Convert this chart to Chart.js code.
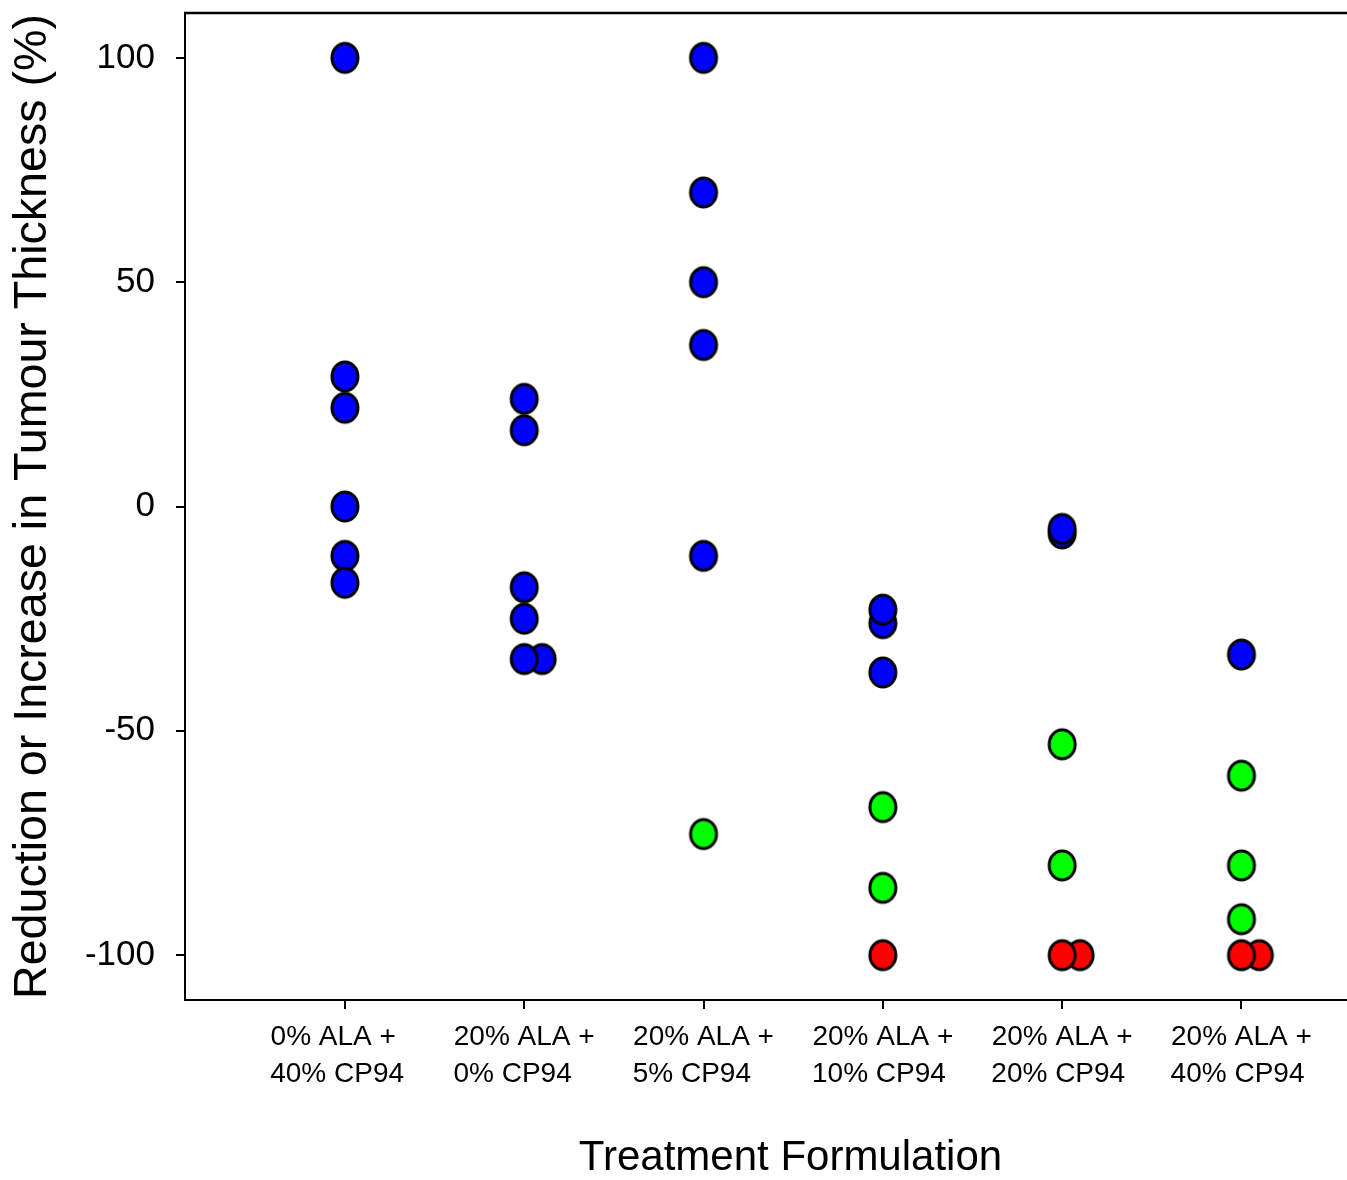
<!DOCTYPE html>
<html>
<head>
<meta charset="utf-8">
<script src="https://cdn.jsdelivr.net/npm/chart.js@4/dist/chart.umd.min.js"></script>
<style>
html, body { margin: 0; padding: 0; background: #fff; overflow: hidden; }
#wrap { width: 1347px; height: 1180px; overflow: hidden; position: relative; }
canvas { display: block; }
</style>
</head>
<body>
<div id="wrap"><canvas id="c" width="1401" height="1180"></canvas></div>
<script>
// ---- data ----
const categories = [
  ["0% ALA +   ", "40% CP94  "],
  ["20% ALA +", "0% CP94   "],
  ["20% ALA +", "5% CP94   "],
  ["20% ALA +", "10% CP94 "],
  ["20% ALA +", "20% CP94 "],
  ["20% ALA +", "40% CP94 "]
];
const yTicks = [-100, -50, 0, 50, 100];

// category position (with small side offset for overlapping points) and value
const blueX = [0, 0, 0, 0, 0, 0,   1, 1, 1, 1, 1.1, 1,   2, 2, 2, 2, 2,   3, 3, 3,   4, 4,   5];
const blueY = [100, 29, 22, 0, -11, -17,   24, 17, -18, -25, -34, -34,   100, 70, 50, 36, -11,   -37, -26, -23,   -6, -5,   -33];

const greenX = [2,   3, 3,   4, 4,   5, 5, 5];
const greenY = [-73,   -67, -85,   -53, -80,   -60, -80, -92];

const redX = [3,   4.1, 4,   5.1, 5];
const redY = [-100,   -100, -100,   -100, -100];

// ---- helpers ----
function toPoints(xs, ys) { return xs.map((x, i) => ({ x: x, y: ys[i] })); }
function marker(fill) {
  const cv = document.createElement('canvas');
  cv.width = 32; cv.height = 35;
  const g = cv.getContext('2d');
  g.beginPath();
  g.ellipse(16, 17.5, 13, 14.5, 0, 0, Math.PI * 2);
  g.fillStyle = fill;
  g.fill();
  g.lineWidth = 3;
  g.strokeStyle = '#000';
  g.stroke();
  return cv;
}

const topBorder = {
  id: 'topBorder',
  afterDraw(chart) {
    const { ctx, chartArea } = chart;
    ctx.save();
    ctx.strokeStyle = '#000';
    ctx.lineWidth = 2.5;
    ctx.beginPath();
    ctx.moveTo(chartArea.left - 1, chartArea.top);
    ctx.lineTo(chartArea.right + 10, chartArea.top);
    ctx.stroke();
    ctx.restore();
  }
};

const font = "'Liberation Sans', Arial, Helvetica, sans-serif";

new Chart(document.getElementById('c'), {
  type: 'scatter',
  data: {
    datasets: [
      { label: 'blue', data: toPoints(blueX, blueY), pointStyle: marker('#0000ff'), backgroundColor: '#0000ff', borderColor: '#000' },
      { label: 'green', data: toPoints(greenX, greenY), pointStyle: marker('#00ff00'), backgroundColor: '#00ff00', borderColor: '#000' },
      { label: 'red', data: toPoints(redX, redY), pointStyle: marker('#ff0000'), backgroundColor: '#ff0000', borderColor: '#000' }
    ]
  },
  options: {
    responsive: false,
    animation: false,
    devicePixelRatio: 1,
    layout: { padding: { top: 13, left: 0, right: 0, bottom: 0 } },
    plugins: { legend: { display: false }, tooltip: { enabled: false } },
    scales: {
      x: {
        type: 'linear',
        min: -0.892,
        max: 5.862,
        afterFit(scale) { scale.height = 180; scale.paddingLeft = 0; scale.paddingRight = 0; },
        afterBuildTicks(scale) { scale.ticks = categories.map((c, i) => ({ value: i })); },
        border: { display: true, color: '#000', width: 2 },
        grid: { drawOnChartArea: false, drawTicks: true, tickLength: 9, color: '#000', lineWidth: 2 },
        ticks: {
          color: '#000',
          padding: 10,
          maxRotation: 0,
          autoSkip: false,
          font: { family: font, size: 28, lineHeight: 1.32 },
          callback: (v) => categories[v]
        },
        title: {
          display: true,
          text: 'Treatment Formulation',
          color: '#000',
          font: { family: font, size: 42, lineHeight: 1 },
          padding: { top: 0, bottom: 1 }
        }
      },
      y: {
        type: 'linear',
        min: -110,
        max: 110,
        afterFit(scale) { scale.width = 185; scale.paddingTop = 0; scale.paddingBottom = 0; },
        afterBuildTicks(scale) { scale.ticks = yTicks.map(v => ({ value: v })); },
        border: { display: true, color: '#000', width: 2 },
        grid: { drawOnChartArea: false, drawTicks: true, tickLength: 9, color: '#000', lineWidth: 2 },
        ticks: {
          color: '#000',
          padding: 21,
          font: { family: font, size: 35 },
          callback: (v) => String(v)
        },
        title: {
          display: true,
          text: 'Reduction or Increase in Tumour Thickness (%)',
          color: '#000',
          font: { family: font, size: 46.6, lineHeight: 1 },
          padding: { top: 10, bottom: 0 }
        }
      }
    }
  },
  plugins: [topBorder]
});
</script>
</body>
</html>
